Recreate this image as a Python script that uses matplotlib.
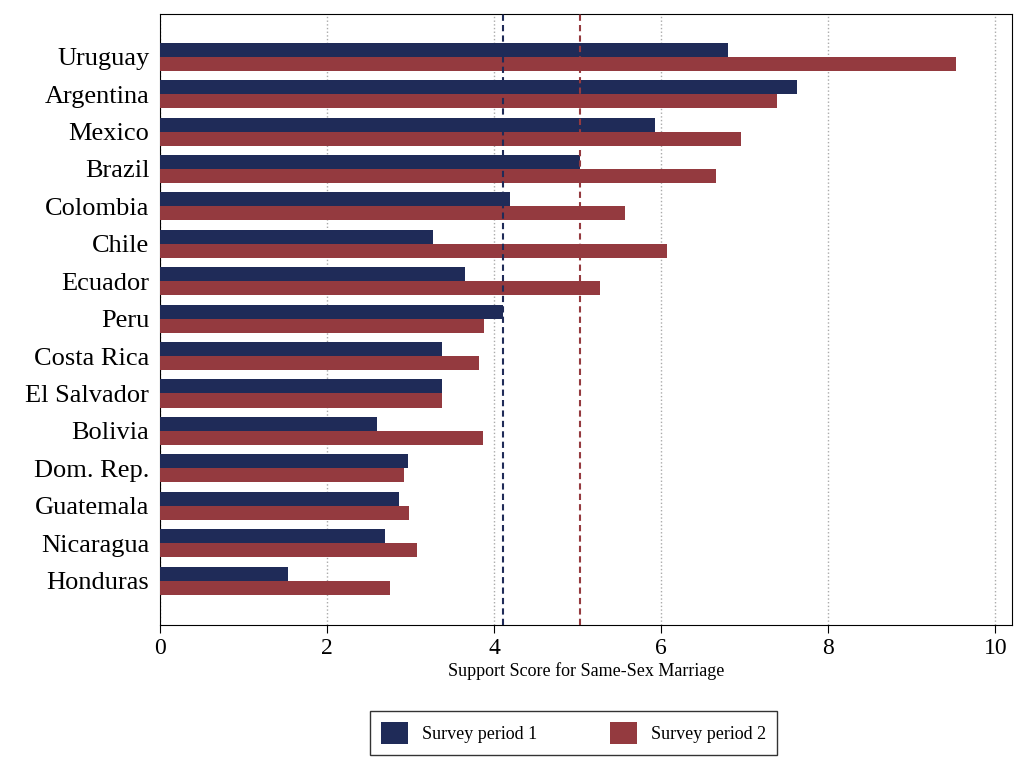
import numpy as np
import matplotlib
matplotlib.use("Agg")
from matplotlib import pyplot as plt

countries = ['Uruguay', 'Argentina', 'Mexico', 'Brazil', 'Colombia', 'Chile', 'Ecuador', 'Peru',
             'Costa Rica', 'El Salvador', 'Bolivia', 'Dom. Rep.', 'Guatemala', 'Nicaragua', 'Honduras']
period1 = [6.80, 7.63, 5.92, 5.03, 4.19, 3.27, 3.65, 4.10, 3.37, 3.37, 2.60, 2.97, 2.86, 2.69, 1.53]
period2 = [9.53, 7.38, 6.96, 6.66, 5.57, 6.07, 5.27, 3.88, 3.82, 3.37, 3.86, 2.92, 2.98, 3.07, 2.75]
mean1 = 4.10
mean2 = 5.03

navy = '#1f2b58'
red = '#943a3f'

plt.rcParams['font.family'] = ['Liberation Serif', 'DejaVu Serif']

fig = plt.figure(figsize=(10.15, 7.6), dpi=100)
ax = fig.add_axes([0.158, 0.178, 0.839, 0.804])

n = len(countries)
y = np.arange(n)[::-1]
h = 0.375
ax.barh(y + h / 2, period1, height=h, color=navy, label='Survey period 1', zorder=3)
ax.barh(y - h / 2, period2, height=h, color=red, label='Survey period 2', zorder=3)

ax.axvline(mean1, color=navy, ls=(0, (3, 2)), lw=1.5, zorder=4)
ax.axvline(mean2, color=red, ls=(0, (3, 2)), lw=1.5, zorder=4)

ax.set_xlim(0, 10.2)
ax.set_ylim(-1.18, 15.15)
ax.set_xticks([0, 2, 4, 6, 8, 10])
ax.set_yticks(y)
ax.set_yticklabels(countries, fontsize=19)
ax.tick_params(axis='x', labelsize=17, length=6)
ax.tick_params(axis='y', length=0, pad=8)
ax.xaxis.grid(True, ls=':', color='#aaaaaa', lw=1, zorder=0)
ax.set_xlabel('Support Score for Same-Sex Marriage', fontsize=13, labelpad=2)
for s in ax.spines.values():
    s.set_color('black')

fig.legend(loc='lower center', bbox_to_anchor=(0.565, -0.005), ncol=2, fontsize=13,
           frameon=True, fancybox=False, edgecolor='black', columnspacing=4,
           handlelength=1.5, handleheight=1.5, borderpad=0.6)

fig.savefig('out.png', dpi=100)
